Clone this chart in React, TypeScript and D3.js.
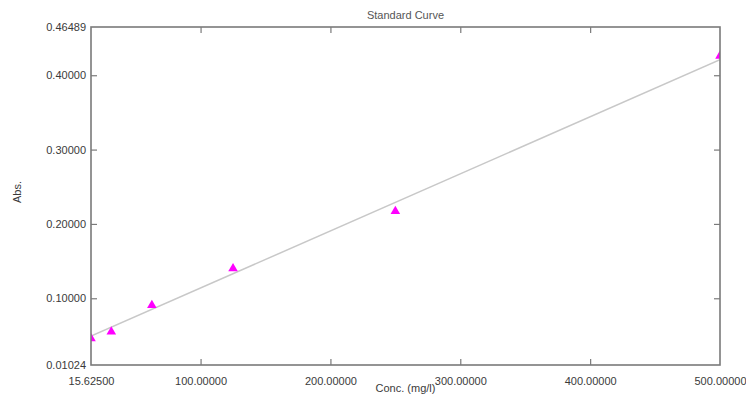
import React, { useRef, useEffect } from "react";
import * as d3 from "d3";

// standard concentrations (mg/l) and measured absorbance
const conc = [15.625, 31.25, 62.5, 125, 250, 500];
const abs = [0.046, 0.055, 0.0905, 0.14, 0.217, 0.426];

// fitted line end points
const fitConc = [15.625, 500];
const fitAbs = [0.049, 0.421];

const xTicks = [15.625, 100, 200, 300, 400, 500];
const yTicks = [0.01024, 0.1, 0.2, 0.3, 0.4, 0.46489];

const W = 746;
const H = 396;

const App = () => {
  const ref = useRef<SVGSVGElement | null>(null);

  useEffect(() => {
    if (!ref.current) return;
    const svg = d3.select(ref.current);
    svg.selectAll("*").remove();

    const margin = { top: 27, right: 26, bottom: 31, left: 91 };
    const width = W - margin.left - margin.right;
    const height = H - margin.top - margin.bottom;

    const x = d3.scaleLinear().domain([15.625, 500]).range([0, width]);
    const y = d3.scaleLinear().domain([0.01024, 0.46489]).range([height, 0]);

    const font = "'Liberation Sans', Arial, sans-serif";
    const axisColor = "#7a7a7a";
    const textColor = "#3a3a3a";

    svg
      .append("defs")
      .append("clipPath")
      .attr("id", "plot-clip")
      .append("rect")
      .attr("width", width)
      .attr("height", height);

    const g = svg
      .append("g")
      .attr("transform", `translate(${margin.left},${margin.top})`);

    // fit line + points, clipped to the box
    const plot = g.append("g").attr("clip-path", "url(#plot-clip)");

    const line = d3
      .line<number>()
      .x((d) => x(d))
      .y((d, i) => y(fitAbs[i]));

    plot
      .append("path")
      .datum(fitConc)
      .attr("d", line)
      .attr("fill", "none")
      .attr("stroke", "#c8c8c8")
      .attr("stroke-width", 1.5);

    const tri = d3.symbol().type(d3.symbolTriangle).size(40);
    plot
      .selectAll(".pt")
      .data(conc)
      .enter()
      .append("path")
      .attr("class", "pt")
      .attr("d", tri)
      .attr("transform", (d, i) => `translate(${x(d)},${y(abs[i])})`)
      .attr("fill", "#ff00ff");

    // frame
    g.append("rect")
      .attr("width", width)
      .attr("height", height)
      .attr("fill", "none")
      .attr("stroke", axisColor)
      .attr("stroke-width", 1.6);

    const styleAxis = (sel) => {
      sel.select(".domain").remove();
      sel.selectAll("line").attr("stroke", axisColor).attr("stroke-width", 1.2);
      sel
        .selectAll("text")
        .attr("fill", textColor)
        .style("font-family", font)
        .style("font-size", "11px");
    };

    const fmt = d3.format(".5f");

    // bottom axis, inward ticks
    g.append("g")
      .attr("transform", `translate(0,${height})`)
      .call(
        d3.axisBottom(x).tickValues(xTicks).tickFormat(fmt).tickSizeInner(-6).tickSizeOuter(0).tickPadding(12)
      )
      .call(styleAxis);

    // top axis ticks only
    g.append("g")
      .call(d3.axisTop(x).tickValues(xTicks.slice(1, -1)).tickSizeInner(-6).tickSizeOuter(0).tickFormat(() => ""))
      .call(styleAxis);

    // left axis
    g.append("g")
      .call(
        d3.axisLeft(y).tickValues(yTicks).tickFormat(fmt).tickSizeInner(-6).tickSizeOuter(0).tickPadding(5)
      )
      .call(styleAxis);

    // right axis ticks only
    g.append("g")
      .attr("transform", `translate(${width},0)`)
      .call(d3.axisRight(y).tickValues(yTicks.slice(1, -1)).tickSizeInner(-6).tickSizeOuter(0).tickFormat(() => ""))
      .call(styleAxis);

    // end ticks of extremes hidden (they sit on the frame)
    g.selectAll(".tick line").filter((d) => d === 15.625 || d === 500 || d === 0.01024 || d === 0.46489).remove();

    svg
      .append("text")
      .attr("x", margin.left + width / 2)
      .attr("y", 19)
      .attr("text-anchor", "middle")
      .attr("fill", "#555")
      .style("font-family", font)
      .style("font-size", "11px")
      .text("Standard Curve");

    svg
      .append("text")
      .attr("x", margin.left + width / 2)
      .attr("y", 392)
      .attr("text-anchor", "middle")
      .attr("fill", textColor)
      .style("font-family", font)
      .style("font-size", "11px")
      .text("Conc. (mg/l)");

    svg
      .append("text")
      .attr("transform", `translate(21,192) rotate(-90)`)
      .attr("text-anchor", "middle")
      .attr("fill", textColor)
      .style("font-family", font)
      .style("font-size", "11px")
      .text("Abs.");
  }, []);

  return (
    <svg
      ref={ref}
      width={W}
      height={H}
      style={{ position: "absolute", left: 0, top: 0, background: "#fff" }}
    />
  );
};

export default App;
